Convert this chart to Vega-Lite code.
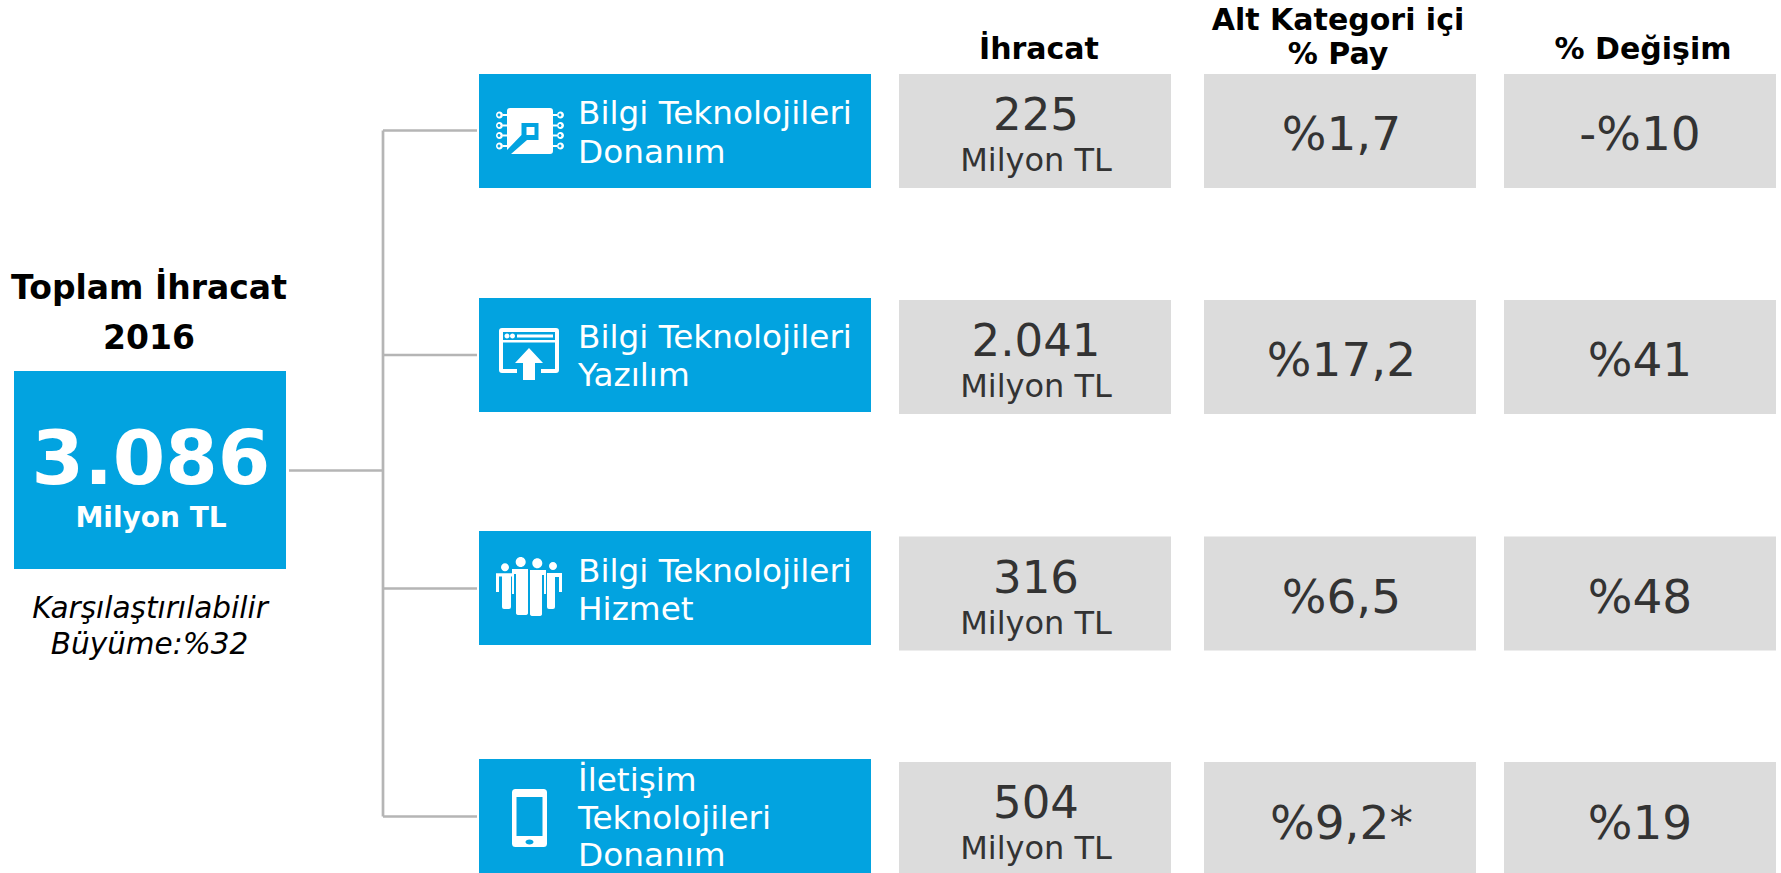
{
"$schema":"https://vega.github.io/schema/vega-lite/v6.json",
"width":1781,"height":873,"padding":0,
"autosize":{"type":"none"},
"background":"#ffffff",
"config":{"view":{"stroke":null},"axis":{"disable":true},"legend":{"disable":true},"text":{"font":"DejaVu Sans","baseline":"alphabetic"}},
"datasets":{
"categories":[
{"row":1,"category":"Bilgi Teknolojileri Donanım"},
{"row":2,"category":"Bilgi Teknolojileri Yazılım"},
{"row":3,"category":"Bilgi Teknolojileri Hizmet"},
{"row":4,"category":"İletişim Teknolojileri Donanım"}],
"labelLines":[
{"seq":1,"text":"Bilgi Teknolojileri"},{"seq":2,"text":"Donanım"},
{"seq":3,"text":"Bilgi Teknolojileri"},{"seq":4,"text":"Yazılım"},
{"seq":5,"text":"Bilgi Teknolojileri"},{"seq":6,"text":"Hizmet"},
{"seq":7,"text":"İletişim"},{"seq":8,"text":"Teknolojileri"},{"seq":9,"text":"Donanım"}],
"cells":[
{"row":1,"col":1,"value":"225","unit":"Milyon TL"},{"row":1,"col":2,"value":"%1,7"},{"row":1,"col":3,"value":"-%10"},
{"row":2,"col":1,"value":"2.041","unit":"Milyon TL"},{"row":2,"col":2,"value":"%17,2"},{"row":2,"col":3,"value":"%41"},
{"row":3,"col":1,"value":"316","unit":"Milyon TL"},{"row":3,"col":2,"value":"%6,5"},{"row":3,"col":3,"value":"%48"},
{"row":4,"col":1,"value":"504","unit":"Milyon TL"},{"row":4,"col":2,"value":"%9,2*"},{"row":4,"col":3,"value":"%19"}],
"headers":[
{"seq":1,"text":"İhracat"},{"seq":2,"text":"Alt Kategori içi"},{"seq":3,"text":"% Pay"},{"seq":4,"text":"% Değişim"}],
"total":[{"box":1,"value":"3.086","unit":"Milyon TL"}],
"totalText":[
{"seq":1,"part":"title","text":"Toplam İhracat"},{"seq":2,"part":"title","text":"2016"},
{"seq":3,"part":"note","text":"Karşılaştırılabilir"},{"seq":4,"part":"note","text":"Büyüme:%32"}],
"links":[
{"from":1,"to":2,"row":2.5,"rowEnd":2.5},
{"from":2,"to":2,"row":1,"rowEnd":4},
{"from":2,"to":3,"row":1,"rowEnd":1},
{"from":2,"to":3,"row":2,"rowEnd":2},
{"from":2,"to":3,"row":3,"rowEnd":3},
{"from":2,"to":3,"row":4,"rowEnd":4}]
},
"layer":[
{"data":{"name":"links"},"mark":{"type":"rule","color":"#b5b5b5","strokeWidth":2.7},
"encoding":{"x":{"field":"from","type":"quantitative","scale":{"domain":[1,2,3],"range":[289,383,477]}},"x2":{"field":"to"},
"y":{"field":"row","type":"quantitative","scale":{"domain":[1,2,2.5,3,4],"range":[130.5,355,470.5,588.5,816.5]}},"y2":{"field":"rowEnd"}}},

{"data":{"name":"total"},"mark":{"type":"rect","color":"#02a3e0","width":272,"height":198},
"encoding":{"x":{"field":"box","type":"quantitative","scale":{"domain":[0,1],"range":[149,150]}},"y":{"field":"box","type":"quantitative","scale":{"domain":[0,1],"range":[469,470]}}}},

{"data":{"name":"categories"},"mark":{"type":"rect","color":"#02a3e0","width":392,"height":114,"clip":true},
"encoding":{"x":{"field":"row","type":"quantitative","scale":{"domain":[0,1],"range":[675,675]}},"y":{"field":"row","type":"quantitative","scale":{"domain":[1,2,3,4],"range":[131,355,588,816]}}}},

{"data":{"name":"cells"},"mark":{"type":"rect","color":"#dcdcdc","width":272,"height":114,"clip":true},
"encoding":{"x":{"field":"col","type":"quantitative","scale":{"domain":[1,2,3],"range":[1035,1340,1640]}},"y":{"field":"row","type":"quantitative","scale":{"domain":[1,2,3,4],"range":[131,357,593.5,819]}}}},

{"data":{"name":"categories"},"mark":{"type":"point","filled":true,"color":"#ffffff","opacity":1,"size":4},
"encoding":{"x":{"field":"row","type":"quantitative","scale":{"domain":[1,2,3,4],"range":[530,529,529,529.5]}},"y":{"field":"row","type":"quantitative","scale":{"domain":[1,2,3,4],"range":[131,354,584,818]}},
"shape":{"field":"row","type":"nominal","scale":{"domain":[1,2,3,4],"range":[
"M-20 -23H20Q23 -23 23 -20V20Q23 23 20 23H-23V-20Q-23 -23 -20 -23ZM-8.5 -8L-8.5 4L-23 19L-23 23L-19 23L-3 9L8.5 9L8.5 -8ZM-3.5 -4H4.5V4H-3.5ZM-34 -16a3.5 3.5 0 1 1 7 0a3.5 3.5 0 1 1 -7 0ZM-32.5 -16a1.5 1.5 0 1 0 3 0a1.5 1.5 0 1 0 -3 0ZM-27 -17H-23V-15H-27ZM-34 -5.5a3.5 3.5 0 1 1 7 0a3.5 3.5 0 1 1 -7 0ZM-32.5 -5.5a1.5 1.5 0 1 0 3 0a1.5 1.5 0 1 0 -3 0ZM-27 -6.5H-23V-4.5H-27ZM-34 4.5a3.5 3.5 0 1 1 7 0a3.5 3.5 0 1 1 -7 0ZM-32.5 4.5a1.5 1.5 0 1 0 3 0a1.5 1.5 0 1 0 -3 0ZM-27 3.5H-23V5.5H-27ZM-34 15a3.5 3.5 0 1 1 7 0a3.5 3.5 0 1 1 -7 0ZM-32.5 15a1.5 1.5 0 1 0 3 0a1.5 1.5 0 1 0 -3 0ZM-27 14H-23V16H-27ZM27 -16a3.5 3.5 0 1 1 7 0a3.5 3.5 0 1 1 -7 0ZM28.5 -16a1.5 1.5 0 1 0 3 0a1.5 1.5 0 1 0 -3 0ZM23 -17H27V-15H23ZM27 -5.5a3.5 3.5 0 1 1 7 0a3.5 3.5 0 1 1 -7 0ZM28.5 -5.5a1.5 1.5 0 1 0 3 0a1.5 1.5 0 1 0 -3 0ZM23 -6.5H27V-4.5H23ZM27 4.5a3.5 3.5 0 1 1 7 0a3.5 3.5 0 1 1 -7 0ZM28.5 4.5a1.5 1.5 0 1 0 3 0a1.5 1.5 0 1 0 -3 0ZM23 3.5H27V5.5H23ZM27 15a3.5 3.5 0 1 1 7 0a3.5 3.5 0 1 1 -7 0ZM28.5 15a1.5 1.5 0 1 0 3 0a1.5 1.5 0 1 0 -3 0ZM23 14H27V16H23Z",
"M-27 -26H27Q30 -26 30 -23V-22H-30V-23Q-30 -26 -27 -26ZM-30 -22H-26V15H-30ZM26 -22H30V15H26ZM-30 15H-12V19H-27Q-30 19 -30 16ZM12 15H30V16Q30 19 27 19H12ZM-26 -14H26V-11.5H-26ZM-24.5 -18a2.5 2.5 0 1 1 5 0a2.5 2.5 0 1 1 -5 0ZM-19 -18a2.5 2.5 0 1 1 5 0a2.5 2.5 0 1 1 -5 0ZM-12 -19.5H24V-16.5H-12ZM0 -6L14 9H6V26H-6V9H-14Z",
"M-28 -16.7a4 4 0 1 1 8 0a4 4 0 1 1 -8 0ZM-13.3 -22a5 5 0 1 1 10 0a5 5 0 1 1 -10 0ZM3.3 -20.7a5 5 0 1 1 10 0a5 5 0 1 1 -10 0ZM20 -18a4 4 0 1 1 8 0a4 4 0 1 1 -8 0ZM-33 -10.7H-17V-7.5H-18V23Q-18 25 -20 25H-25Q-27 25 -27 23V-7.5H-30V8H-33ZM-17 -15H-1V29Q-1 31 -4 31H-10Q-13 31 -13 29V-10H-15V10H-17ZM1 -14H17V10H15V-9H13V30Q13 32 10 32H4Q1 32 1 30ZM18 -11H33V8H30V-7H26V23Q26 25 24 25H20Q18 25 18 23Z",
"M-14 -29H14Q17.5 -29 17.5 -25.5V25.5Q17.5 29 14 29H-14Q-17.5 29 -17.5 25.5V-25.5Q-17.5 -29 -14 -29ZM-13 -21V18H13V-21ZM-4 24a4 2.5 0 1 0 8 0a4 2.5 0 1 0 -8 0Z"
]}}}},

{"data":{"name":"labelLines"},"mark":{"type":"text","align":"left","color":"#ffffff","fontSize":32.7},
"encoding":{"text":{"field":"text"},"x":{"field":"seq","type":"quantitative","scale":{"domain":[1,9],"range":[578,578]}},"y":{"field":"seq","type":"quantitative","scale":{"domain":[1,2,3,4,5,6,7,8,9],"range":[124,163,348,386,582,620,791,829,866]}}}},

{"data":{"name":"headers"},"mark":{"type":"text","align":"center","color":"#000000","fontWeight":"bold","fontSize":30},
"encoding":{"text":{"field":"text"},"x":{"field":"seq","type":"quantitative","scale":{"domain":[1,2,3,4],"range":[1039,1338,1338,1643]}},"y":{"field":"seq","type":"quantitative","scale":{"domain":[1,2,3,4],"range":[59,30,64,59]}}}},

{"data":{"name":"cells"},"transform":[{"filter":"datum.col == 1"}],"mark":{"type":"text","align":"center","color":"#333333","fontSize":45},
"encoding":{"text":{"field":"value"},"x":{"field":"col","type":"quantitative","scale":{"domain":[0,1],"range":[1035,1036]}},"y":{"field":"row","type":"quantitative","scale":{"domain":[1,2,3,4],"range":[130,356,593,818]}}}},

{"data":{"name":"cells"},"transform":[{"filter":"datum.col == 1"}],"mark":{"type":"text","align":"center","color":"#333333","fontSize":32},
"encoding":{"text":{"field":"unit"},"x":{"field":"col","type":"quantitative","scale":{"domain":[0,1],"range":[1035,1036]}},"y":{"field":"row","type":"quantitative","scale":{"domain":[1,2,3,4],"range":[171,397,634,859]}}}},

{"data":{"name":"cells"},"transform":[{"filter":"datum.col > 1"}],"mark":{"type":"text","align":"center","color":"#333333","fontSize":47},
"encoding":{"text":{"field":"value"},"x":{"field":"col","type":"quantitative","scale":{"domain":[2,3],"range":[1341.5,1640]}},"y":{"field":"row","type":"quantitative","scale":{"domain":[1,2,3,4],"range":[150,376,613,839]}}}},

{"data":{"name":"totalText"},"transform":[{"filter":"datum.part == 'title'"}],"mark":{"type":"text","align":"center","color":"#000000","fontWeight":"bold","fontSize":33},
"encoding":{"text":{"field":"text"},"x":{"field":"seq","type":"quantitative","scale":{"domain":[1,2],"range":[149,149]}},"y":{"field":"seq","type":"quantitative","scale":{"domain":[1,2],"range":[299,349]}}}},

{"data":{"name":"totalText"},"transform":[{"filter":"datum.part == 'note'"}],"mark":{"type":"text","align":"center","color":"#000000","fontStyle":"italic","fontSize":29.5},
"encoding":{"text":{"field":"text"},"x":{"field":"seq","type":"quantitative","scale":{"domain":[3,4],"range":[150,149.5]}},"y":{"field":"seq","type":"quantitative","scale":{"domain":[3,4],"range":[618,654]}}}},

{"data":{"name":"total"},"mark":{"type":"text","align":"center","color":"#ffffff","fontWeight":"bold","fontSize":75.5},
"encoding":{"text":{"field":"value"},"x":{"field":"box","type":"quantitative","scale":{"domain":[0,1],"range":[150,151]}},"y":{"field":"box","type":"quantitative","scale":{"domain":[0,1],"range":[483,484]}}}},

{"data":{"name":"total"},"mark":{"type":"text","align":"center","color":"#ffffff","fontWeight":"bold","fontSize":28},
"encoding":{"text":{"field":"unit"},"x":{"field":"box","type":"quantitative","scale":{"domain":[0,1],"range":[150,151]}},"y":{"field":"box","type":"quantitative","scale":{"domain":[0,1],"range":[526,527]}}}}
],
"resolve":{"scale":{"x":"independent","y":"independent"}}
}
